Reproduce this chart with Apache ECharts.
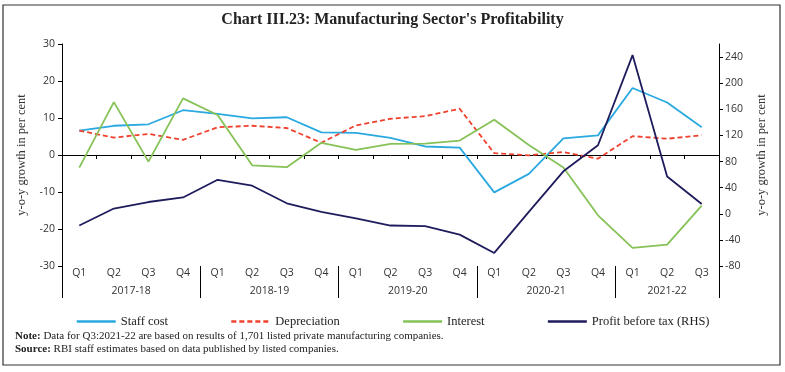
<!DOCTYPE html>
<html>
<head>
<meta charset="utf-8">
<script src="https://cdn.jsdelivr.net/npm/echarts@6/dist/echarts.min.js"></script>
<style>html,body{margin:0;padding:0;background:#fff}#c{width:785px;height:372px}</style>
</head>
<body>
<div id="c"></div>
<script>
const years = ['2017-18','2018-19','2019-20','2020-21','2021-22'];
const quartersPerYear = [4,4,4,4,3];
const quarterNames = ['Q1','Q2','Q3','Q4'];
const staffCost =    [6.6, 7.9, 8.3, 12.1, 11.1, 9.9, 10.2, 6.1, 6.0, 4.6, 2.3, 2.0, -10.1, -5.1, 4.5, 5.3, 18.1, 14.2, 7.5];
const depreciation = [6.6, 4.7, 5.7, 4.1, 7.5, 7.9, 7.3, 3.3, 8.0, 9.8, 10.5, 12.5, 0.5, -0.1, 0.8, -1.0, 5.1, 4.4, 5.3];
const interest =     [-3.4, 14.3, -1.8, 15.3, 10.8, -2.8, -3.3, 3.3, 1.4, 3.0, 3.1, 3.9, 9.5, 2.7, -3.4, -16.3, -25.1, -24.2, -13.7];
const profitRHS =    [-18, 8, 18, 25, 52, 43, 16, 3, -7, -18, -19, -32, -60, 3, 65, 105, 243, 57, 15];
const leftTicks = {min: -30, max: 30, step: 10};
const rightTicks = {min: -80, max: 240, step: 40, axisMax: 260};

const quarterLabels = [];
const yearCenters = [];
const yearBounds = [0];
let pos = 0;
quartersPerYear.forEach((n) => {
  for (let i = 0; i < n; i++) quarterLabels.push(quarterNames[i]);
  yearCenters.push(pos + n / 2);
  pos += n;
  yearBounds.push(pos);
});
const rightVals = [];
for (let v = rightTicks.min; v <= rightTicks.max; v += rightTicks.step) rightVals.push(v);

const sans = 'Open Sans';
const serif = 'Liberation Serif';
const chart = echarts.init(document.getElementById('c'));
chart.setOption({
  animation: false,
  backgroundColor: '#fff',
  title: {
    text: "Chart III.23: Manufacturing Sector's Profitability",
    left: 'center', top: 7,
    textStyle: {fontFamily: serif, fontSize: 16, fontWeight: 'bold', color: '#222'}
  },
  grid: {left: 62, right: 66, top: 44, bottom: 106, containLabel: false},
  legend: {
    top: 310, left: 'center', itemWidth: 39, itemHeight: 10, itemGap: 62,
    itemStyle: {opacity: 0},
    lineStyle: {width: 2.5},
    textStyle: {fontFamily: serif, fontSize: 12.5, color: '#222'},
    data: ['Staff cost', 'Depreciation', 'Interest', 'Profit before tax (RHS)']
  },
  xAxis: [
    {
      type: 'category', data: quarterLabels, boundaryGap: true,
      axisLine: {onZero: true, lineStyle: {color: '#000', width: 1}},
      axisTick: {show: true, interval: 0, length: 4, lineStyle: {color: '#000'}},
      axisLabel: {show: false}, splitLine: {show: false}
    },
    {
      type: 'category', data: quarterLabels, boundaryGap: true, position: 'bottom',
      axisLine: {show: false, onZero: false}, axisTick: {show: false},
      axisLabel: {interval: 0, margin: 2, fontFamily: sans, fontSize: 10.5, color: '#333'}
    },
    {
      type: 'value', min: 0, max: pos, position: 'bottom',
      axisLine: {show: false, onZero: false},
      splitLine: {show: false},
      axisTick: {show: true, customValues: yearBounds, length: 32, lineStyle: {color: '#000', width: 1}},
      axisLabel: {
        customValues: yearCenters, margin: 20, fontFamily: sans, fontSize: 10.5, color: '#333',
        formatter: (v) => { const i = yearCenters.indexOf(v); return i >= 0 ? years[i] : ''; }
      }
    }
  ],
  yAxis: [
    {
      type: 'value', min: leftTicks.min, max: leftTicks.max, interval: leftTicks.step,
      name: 'y-o-y growth in per cent', nameLocation: 'middle', nameGap: 22,
      nameTextStyle: {fontFamily: serif, fontSize: 12.5, color: '#333'},
      axisLine: {show: true, lineStyle: {color: '#000'}},
      axisTick: {show: true, length: 4, lineStyle: {color: '#000'}},
      axisLabel: {margin: 7, fontFamily: sans, fontSize: 10.5, color: '#333'},
      splitLine: {show: false}
    },
    {
      type: 'value', min: rightTicks.min, max: rightTicks.axisMax, position: 'right',
      name: 'y-o-y growth in per cent', nameLocation: 'middle', nameGap: 36, nameRotate: 90,
      nameTextStyle: {fontFamily: serif, fontSize: 12.5, color: '#333'},
      axisLine: {show: true, lineStyle: {color: '#000'}},
      axisTick: {show: true, customValues: rightVals, length: 4, lineStyle: {color: '#000'}},
      axisLabel: {customValues: rightVals, margin: 6, fontFamily: sans, fontSize: 10.5, color: '#333'},
      splitLine: {show: false}
    }
  ],
  series: [
    {name: 'Staff cost', type: 'line', data: staffCost, symbol: 'none', xAxisIndex: 0, yAxisIndex: 0,
     lineStyle: {color: '#29a9e0', width: 1.8}, itemStyle: {color: '#29a9e0'}},
    {name: 'Depreciation', type: 'line', data: depreciation, symbol: 'none', xAxisIndex: 0, yAxisIndex: 0,
     lineStyle: {color: '#f0412f', width: 1.8, type: [5, 3]}, itemStyle: {color: '#f0412f'}},
    {name: 'Interest', type: 'line', data: interest, symbol: 'none', xAxisIndex: 0, yAxisIndex: 0,
     lineStyle: {color: '#86c257', width: 1.8}, itemStyle: {color: '#86c257'}},
    {name: 'Profit before tax (RHS)', type: 'line', data: profitRHS, symbol: 'none', xAxisIndex: 0, yAxisIndex: 1,
     lineStyle: {color: '#1e1c5c', width: 1.8}, itemStyle: {color: '#1e1c5c'}}
  ],
  graphic: [
    {type: 'rect', shape: {x: 3, y: 5, width: 777, height: 360}, style: {fill: 'none', stroke: '#333', lineWidth: 1.2}, silent: true, z: -1},
    {type: 'text', left: 15, top: 331, style: {
      text: '{b|Note:} Data for Q3:2021-22 are based on results of 1,701 listed private manufacturing companies.',
      rich: {b: {fontWeight: 'bold', fontFamily: serif, fontSize: 11, fill: '#222'}},
      fontFamily: serif, fontSize: 11, fill: '#222'}},
    {type: 'text', left: 15, top: 344, style: {
      text: '{b|Source:} RBI staff estimates based on data published by listed companies.',
      rich: {b: {fontWeight: 'bold', fontFamily: serif, fontSize: 11, fill: '#222'}},
      fontFamily: serif, fontSize: 11, fill: '#222'}}
  ]
});
</script>
</body>
</html>
